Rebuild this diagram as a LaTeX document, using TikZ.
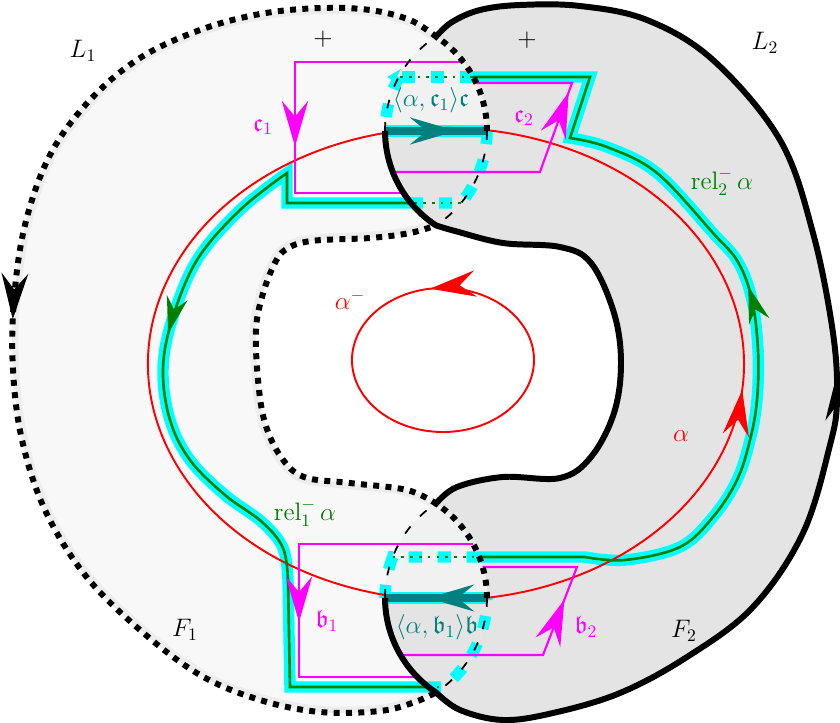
\documentclass[tikz,border=0pt]{standalone}
\usepackage{amsmath,amsfonts}
\usetikzlibrary{arrows.meta,decorations.markings}
\definecolor{relGreen}{HTML}{008000}
\definecolor{hlCyan}{HTML}{00FFFF}
\definecolor{curvMag}{HTML}{FF00FF}
\definecolor{chordTeal}{HTML}{008080}
\definecolor{surfOne}{HTML}{F8F8F8}
\definecolor{surfOneDisk}{HTML}{F1F1F1}
\definecolor{surfTwo}{HTML}{E4E4E4}
\definecolor{haloGray}{HTML}{EDEDED}

\begin{document}
\begin{tikzpicture}[
  x=0.02cm, y=-0.02cm,
  every node/.style={font=\Large},
  >={Stealth[length=26pt, width=15pt, inset=9pt]},
  bdone/.style={line width=3.4pt, dash pattern=on 3.4pt off 3.6pt},
  bdtwo/.style={line width=3.4pt},
  behind/.style={line width=1pt, dash pattern=on 5pt off 8pt},
  hl/.style={draw=hlCyan, line width=6.5pt},
  hldash/.style={hl, dash pattern=on 7.5pt off 9pt},
  rel/.style={draw=relGreen, line width=1.5pt,
    >={Stealth[length=21pt, width=12pt, inset=7pt]}},
  reldot/.style={draw=relGreen, line width=1.5pt, dash pattern=on 1.5pt off 3.5pt},
  curv/.style={draw=curvMag, line width=1.2pt},
  alph/.style={draw=red, line width=1.1pt},
  chord/.style={draw=chordTeal, line width=4.4pt},
  midarrow/.style={postaction={decorate}, decoration={markings,
    mark=at position #1 with {\arrow{>}}}},
  midarrowrev/.style={postaction={decorate}, decoration={markings,
    mark=at position #1 with {\arrowreversed{>}}}},
]
\useasboundingbox (0,0) rectangle (840,723);

% surface F2
\fill[surfTwo] plot[smooth, tension=0.6] coordinates {(436,36.6) (452,22) (480,10) (520,5) (580,6) (647,20) (713,60) (780,140) (813,233) (833,333) (837,400) (830,445) (803,533) (753,607) (687,657) (620,693) (553,713) (503,720) (460,710) (436,692.4)}
  arc[start angle=123.3, end angle=236.7, radius=113]
  -- plot[smooth, tension=0.6] coordinates {(436,503.6) (457,487) (503,477) (560,478) (591,457) (614,413) (621,363) (614,313) (591,263) (560,247) (503,243) (455,231) (436,225.4)}
  arc[start angle=123.3, end angle=236.7, radius=113] -- cycle;

% surface F1
\path[save path=\Fone] plot[smooth, tension=0.6] coordinates {(436,36.6) (410,20) (370,10) (320,8) (260,14) (200,30) (140,58) (90,100) (50,155) (25,225) (14,300) (13,370) (22,440) (45,510) (85,575) (140,630) (200,675) (260,700) (320,712) (380,711) (415,702) (436,692.4)}
  arc[start angle=56.7, end angle=-56.7, radius=113]
  -- plot[smooth, tension=0.6] coordinates {(436,503.6) (407,490) (350,483) (304,477) (281,457) (265,423) (258,380) (256,330) (262,297) (273,267) (285,250) (311,241) (370,238) (410,233) (436,225.4)}
  arc[start angle=56.7, end angle=-56.7, radius=113] -- cycle;
\fill[surfOne, use path=\Fone];
\begin{scope}
  \clip[use path=\Fone];
  \draw[haloGray, line width=7pt, use path=\Fone];
\end{scope}

% the two clasp disks
\foreach \cy in {131,598} {
  \fill[surfOneDisk] (385,\cy) arc[start angle=180, end angle=236.7, radius=113]
    arc[start angle=-56.7, end angle=0, radius=113] -- cycle;
  \fill[surfTwo] (385,\cy) arc[start angle=180, end angle=123.3, radius=113]
    arc[start angle=56.7, end angle=0, radius=113] -- cycle;
}

% highlight
\draw[hl] (479,557) -- (585,557) -- plot[smooth, tension=0.6] coordinates {(585,557) (625,560) (680,547) (713,517) (737,480) (750,440) (757,400) (758,350) (752,300) (738,262) (713,233) (657,173) (607,147) (570,138)} -- (590,77) -- (473,77);
\draw[hl] (411,203) -- (287,203) -- plot[smooth, tension=0.6] coordinates {(287,173) (240,210) (197,260) (172,320) (163,370) (170,420) (190,460) (225,495) (262,522) (283,548) (288,580)} -- (290,687) -- (428,687);
\draw[hl] (385,131) -- (487,131);
\draw[hl] (385,598) -- (487,598);
\draw[hldash, -{Stealth[length=8pt, width=9pt]}] (473,77) -- (387,77);
\draw[hldash] (399,77) arc[start angle=208.5, end angle=180, radius=113];
\draw[hldash] (487,131) arc[start angle=0, end angle=39.6, radius=113] -- (411,203);
\draw[hldash] (428,687) -- (443.6,687) arc[start angle=52, end angle=0, radius=113];
\draw[hldash] (385,598) arc[start angle=180, end angle=201.3, radius=113] -- (479,557);

% alpha and alpha^-
\draw[alph, midarrow=0.034] (726,444.7) arc[start angle=20, end angle=-340, x radius=298, y radius=236];
\draw[alph, midarrow=0.2] (521.8,324) arc[start angle=-30, end angle=-390, x radius=91, y radius=72];

% chords
\draw[chord, midarrow=0.7] (385,131) -- (487,131);
\draw[chord, midarrow=0.58] (487,598) -- (385,598);

% rel curves
\draw[rel, midarrow=0.537] (479,557) -- (585,557) -- plot[smooth, tension=0.6] coordinates {(585,557) (625,560) (680,547) (713,517) (737,480) (750,440) (757,400) (758,350) (752,300) (738,262) (713,233) (657,173) (607,147) (570,138)} -- (590,77) -- (473,77);
\draw[rel, midarrow=0.40] (411,203) -- (287,203) -- plot[smooth, tension=0.6] coordinates {(287,173) (240,210) (197,260) (172,320) (163,370) (170,420) (190,460) (225,495) (262,522) (283,548) (288,580)} -- (290,687) -- (428,687);
\draw[reldot] (473,77) -- (399,77);
\draw[reldot] (461,203) -- (411,203);
\draw[reldot] (428,687) -- (443.6,687);
\draw[reldot] (392.7,557) -- (479,557);

% c and b curves
\draw[curv, midarrow=0.62] (463.5,62) -- (295,62) -- (295,193) -- (403.5,193);
\draw[curv, midarrow=0.688] (392.7,172) -- (540,172) -- (572,83) -- (476.3,83);
\draw[curv, midarrow=0.593] (473.3,544) -- (299,544) -- (299,677) -- (417.2,677);
\draw[curv, midarrow=0.61] (400.4,655) -- (543,655) -- (577,567) -- (482.7,567);

% boundaries
\foreach \cy in {131,598} {
  \draw[behind] (487,\cy) arc[start angle=0, end angle=56.7, radius=113];
  \draw[behind] (385,\cy) arc[start angle=180, end angle=236.7, radius=113];
}
\draw[bdone, midarrow=0.52] (487,131) arc[start angle=0, end angle=-56.7, radius=113] -- plot[smooth, tension=0.6] coordinates {(436,36.6) (410,20) (370,10) (320,8) (260,14) (200,30) (140,58) (90,100) (50,155) (25,225) (14,300) (13,370) (22,440) (45,510) (85,575) (140,630) (200,675) (260,700) (320,712) (380,711) (415,702) (436,692.4)};
\draw[bdone] (487,598) arc[start angle=0, end angle=-56.7, radius=113] -- plot[smooth, tension=0.6] coordinates {(436,503.6) (407,490) (350,483) (304,477) (281,457) (265,423) (258,380) (256,330) (262,297) (273,267) (285,250) (311,241) (370,238) (410,233) (436,225.4)};
\draw[bdtwo, midarrowrev=0.473] plot[smooth, tension=0.6] coordinates {(436,36.6) (452,22) (480,10) (520,5) (580,6) (647,20) (713,60) (780,140) (813,233) (833,333) (837,400) (830,445) (803,533) (753,607) (687,657) (620,693) (553,713) (503,720) (460,710) (436,692.4)} arc[start angle=123.3, end angle=180, radius=113];
\draw[bdtwo] plot[smooth, tension=0.6] coordinates {(436,503.6) (457,487) (503,477) (560,478) (591,457) (614,413) (621,363) (614,313) (591,263) (560,247) (503,243) (455,231) (436,225.4)} arc[start angle=123.3, end angle=180, radius=113];

% labels
\node (plusL) at (323,39) {$+$};
\node (plusR) at (527,40) {$+$};
\node (lblLone) at (83,51) {$L_1$};
\node (lblLtwo) at (765,43) {$L_2$};
\node (lblFone) at (185,630) {$F_1$};
\node (lblFtwo) at (684,631) {$F_2$};
\node[text=curvMag] (lblcone) at (263,127) {$\mathfrak{c}_1$};
\node[text=curvMag] (lblctwo) at (524,118) {$\mathfrak{c}_2$};
\node[text=curvMag] (lblbone) at (327,621) {$\mathfrak{b}_1$};
\node[text=curvMag] (lblbtwo) at (586,627) {$\mathfrak{b}_2$};
\node[text=chordTeal] (lblcc) at (431,100) {$\langle\alpha,\mathfrak{c}_1\rangle\mathfrak{c}$};
\node[text=chordTeal] (lblbb) at (437,627) {$\langle\alpha,\mathfrak{b}_1\rangle\mathfrak{b}$};
\node[text=red] (lblam) at (350,300) {$\alpha^-$};
\node[text=red] (lbla) at (681,436) {$\alpha$};
\node[text=relGreen] (lblreltwo) at (722,182) {$\operatorname{rel}_2^-\alpha$};
\node[text=relGreen] (lblrelone) at (305,513) {$\operatorname{rel}_1^-\alpha$};
\end{tikzpicture}
\end{document}
